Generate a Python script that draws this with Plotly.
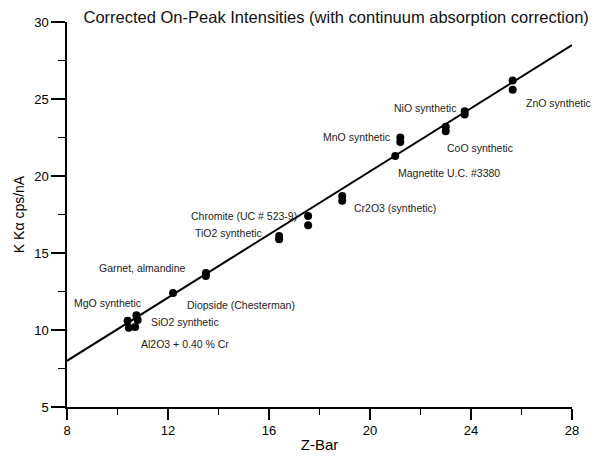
import plotly.graph_objects as go

# Data: Z-bar vs K-alpha intensity (cps/nA)
zbar = [10.4, 10.45, 10.75, 10.8, 10.7,
        12.2,
        13.5, 13.5,
        16.4, 16.4,
        17.55, 17.55,
        18.9, 18.9,
        21.0,
        21.2, 21.2,
        23.0, 23.0,
        23.75, 23.75,
        25.65, 25.65]
intensity = [10.6, 10.15, 10.95, 10.65, 10.2,
             12.4,
             13.7, 13.5,
             16.1, 15.9,
             17.4, 16.8,
             18.7, 18.4,
             21.3,
             22.5, 22.2,
             23.2, 22.9,
             24.2, 24.0,
             26.2, 25.6]

fit_x = [8, 28]
fit_y = [8.0, 28.5]

labels = ["MgO synthetic", "SiO2 synthetic", "Al2O3 + 0.40 % Cr",
          "Diopside (Chesterman)", "Garnet, almandine", "TiO2 synthetic",
          "Chromite (UC # 523-9)", "Cr2O3 (synthetic)", "Magnetite U.C. #3380",
          "MnO synthetic", "CoO synthetic", "NiO synthetic", "ZnO synthetic"]
label_x = [8.2, 11.25, 10.85, 12.67, 9.2, 12.99, 12.85, 19.29, 21.03, 18.06, 22.97, 20.87, 26.1]
label_y = [11.75, 10.52, 9.09, 11.62, 14.03, 16.3, 17.4, 17.92, 20.2, 22.53, 21.82, 24.42, 24.74]

x_ticks = [8, 12, 16, 20, 24, 28]
y_ticks = [5, 10, 15, 20, 25, 30]

FONT = "Liberation Sans, Arial, sans-serif"

fig = go.Figure()
fig.add_trace(go.Scatter(x=fit_x, y=fit_y, mode="lines",
                         line=dict(color="black", width=2), hoverinfo="skip"))
fig.add_trace(go.Scatter(x=zbar, y=intensity, mode="markers",
                         marker=dict(color="black", size=8)))

for t, x, y in zip(labels, label_x, label_y):
    fig.add_annotation(x=x, y=y, xref="x", yref="y", text=t, showarrow=False,
                       xanchor="left", yanchor="middle",
                       font=dict(family=FONT, size=10.5, color="#222"))

fig.update_layout(
    width=596, height=456,
    margin=dict(l=67, r=24, t=22, b=49, autoexpand=False),
    paper_bgcolor="white", plot_bgcolor="white",
    showlegend=False,
    font=dict(family=FONT, color="black"),
    title=dict(text="Corrected On-Peak Intensities (with continuum absorption correction)",
               x=0.533, xref="paper", xanchor="center",
               y=1 - 17 / 456, yref="container", yanchor="middle",
               font=dict(family=FONT, size=16.5, color="#111")),
)
fig.update_xaxes(range=[8, 28], tickvals=x_ticks, ticktext=[str(v) for v in x_ticks],
                 automargin=False,
                 showgrid=False, zeroline=False, showline=True, linecolor="black", linewidth=1.5,
                 ticks="outside", ticklen=11, tickwidth=1.5, tickcolor="black",
                 minor=dict(ticks="outside", ticklen=6, tickwidth=1.2, tickcolor="black", dtick=2, showgrid=False),
                 tickfont=dict(size=13, family=FONT),
                 title=dict(text="Z-Bar", font=dict(size=15, family=FONT), standoff=2))
fig.update_yaxes(range=[5, 30], tickvals=y_ticks, ticktext=[str(v) for v in y_ticks],
                 automargin=False,
                 showgrid=False, zeroline=False, showline=True, linecolor="black", linewidth=1.5,
                 ticks="outside", ticklen=14, tickwidth=1.5, tickcolor="black",
                 minor=dict(ticks="outside", ticklen=7, tickwidth=1.2, tickcolor="black", dtick=2.5, showgrid=False),
                 tickfont=dict(size=13, family=FONT),
                 title=dict(text="K Kα cps/nA", font=dict(size=14, family=FONT), standoff=6))

fig.write_html("out.html")
